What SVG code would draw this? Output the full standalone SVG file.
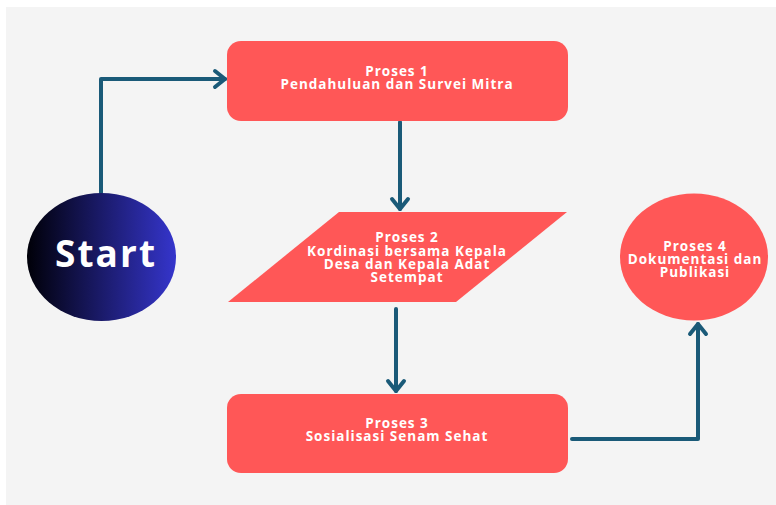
<svg xmlns="http://www.w3.org/2000/svg" width="776" height="505" viewBox="0 0 776 505">
<style>
.node{fill:#ff5757}
.lbl{font-family:"Open Sans","Liberation Sans",sans-serif;font-weight:bold;font-size:13.5px;letter-spacing:1px;fill:#ffffff;text-anchor:middle}
.con{fill:none;stroke:#1a5a78;stroke-width:4;stroke-linecap:round;stroke-linejoin:round}
</style>
<defs>
<linearGradient id="g" x1="0" y1="0" x2="1" y2="0">
<stop offset="0" stop-color="#000008"/>
<stop offset="1" stop-color="#3535cc"/>
</linearGradient>
<marker id="arr" markerUnits="userSpaceOnUse" viewBox="-12 -10 14 20" refX="0" refY="0" markerWidth="14" markerHeight="20" orient="auto" overflow="visible">
<path d="M-10,-8 L0,0 L-10,8" fill="none" stroke="#1a5a78" stroke-width="4" stroke-linecap="round" stroke-linejoin="round"/>
</marker>
</defs>
<rect x="6" y="7" width="770" height="498" fill="#f4f4f4"/>
<g id="connectors">
<polyline class="con" points="101,193 101,79 225,79" marker-end="url(#arr)"/>
<line class="con" x1="400" y1="122" x2="400" y2="209" marker-end="url(#arr)"/>
<line class="con" x1="396" y1="309" x2="396" y2="391" marker-end="url(#arr)"/>
<polyline class="con" points="572,439 698,439 698,324" marker-end="url(#arr)"/>
</g>
<g id="start">
<ellipse cx="101.5" cy="257" rx="74.5" ry="64" fill="url(#g)"/>
<text x="105" y="267" font-family="'Open Sans','Liberation Sans',sans-serif" font-weight="bold" font-size="37" fill="#ffffff" text-anchor="middle" textLength="100" lengthAdjust="spacing">Start</text>
</g>
<g id="proses1">
<rect class="node" x="227" y="41" width="341" height="80" rx="14"/>
<text class="lbl"><tspan x="397" y="76">Proses 1</tspan><tspan x="397" y="89">Pendahuluan dan Survei Mitra</tspan></text>
</g>
<g id="proses2">
<polygon class="node" points="339,212 567,212 456,302 228,302"/>
<text class="lbl"><tspan x="407" y="242">Proses 2</tspan><tspan x="407" y="256">Kordinasi bersama Kepala</tspan><tspan x="407" y="269">Desa dan Kepala Adat</tspan><tspan x="407" y="282">Setempat</tspan></text>
</g>
<g id="proses3">
<rect class="node" x="227" y="394" width="341" height="79" rx="14"/>
<text class="lbl"><tspan x="397" y="428">Proses 3</tspan><tspan x="397" y="441">Sosialisasi Senam Sehat</tspan></text>
</g>
<g id="proses4">
<ellipse class="node" cx="694" cy="257" rx="74" ry="63.5"/>
<text class="lbl"><tspan x="695" y="251">Proses 4</tspan><tspan x="695" y="264">Dokumentasi dan</tspan><tspan x="695" y="277">Publikasi</tspan></text>
</g>
</svg>
